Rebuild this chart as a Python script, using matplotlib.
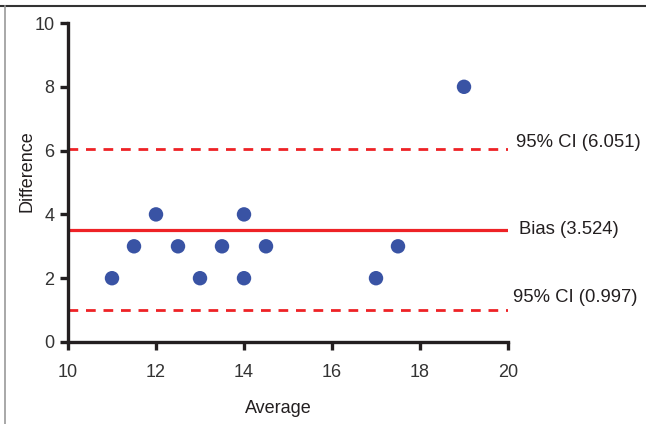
import matplotlib
matplotlib.use('Agg')
from matplotlib import pyplot as plt
from matplotlib.lines import Line2D

plt.rcParams['font.family'] = ['Liberation Sans', 'DejaVu Sans']

# Bland-Altman data
average = [11, 11.5, 12, 12.5, 13, 13.5, 14, 14, 14.5, 17, 17.5, 19]
difference = [2, 3, 4, 3, 2, 3, 4, 2, 3, 2, 3, 8]
bias = 3.524
ci_upper = 6.051
ci_lower = 0.997

red = '#ee2226'
blue = '#3953a4'
ink = '#231f20'

fig = plt.figure(figsize=(6.46, 4.24), dpi=100)
ax = fig.add_axes([68 / 646, 82 / 424, 440 / 646, 319 / 424])

ax.plot([10, 20], [bias, bias], color=red, lw=2.3, solid_capstyle='butt', zorder=2)
ax.plot([10, 20], [ci_upper, ci_upper], color=red, lw=2.0, ls=(0, (3.5, 2.8)), zorder=2)
ax.plot([10, 20], [ci_lower, ci_lower], color=red, lw=2.0, ls=(0, (3.5, 2.8)), zorder=2)
ax.scatter(average, difference, s=108, color=blue, edgecolors='none', zorder=3, clip_on=False)

ax.text(20.18, ci_upper + 0.19, f'95% CI ({ci_upper:.3f})', va='center', ha='left', fontsize=13.3, color=ink)
ax.text(20.25, bias, f'Bias ({bias:.3f})', va='center', ha='left', fontsize=13.3, color=ink)
ax.text(20.11, ci_lower + 0.41, f'95% CI ({ci_lower:.3f})', va='center', ha='left', fontsize=13.3, color=ink)

ax.set_xlim(10, 20)
ax.set_ylim(0, 10)
ax.set_xticks([10, 12, 14, 16, 18, 20])
ax.set_yticks([0, 2, 4, 6, 8, 10])
ax.set_xlabel('Average', fontsize=13, color=ink)
ax.set_ylabel('Difference', fontsize=13, color=ink)
ax.xaxis.set_label_coords(0.477, -0.181)
ax.yaxis.set_label_coords(-0.074, 0.537)

for s in ['top', 'right']:
    ax.spines[s].set_visible(False)
for s in ['left', 'bottom']:
    ax.spines[s].set_linewidth(2.4)
    ax.spines[s].set_color(ink)
    ax.spines[s].set_capstyle('projecting')
ax.tick_params(axis='both', width=2.4, length=5.8, color=ink, labelsize=13, labelcolor='#333333')
ax.tick_params(axis='x', pad=10)
ax.tick_params(axis='y', pad=4)

# frame around figure
fig.add_artist(Line2D([0, 1], [1 - 6 / 424, 1 - 6 / 424], color='#333333', lw=1.5, transform=fig.transFigure))
fig.add_artist(Line2D([5 / 646, 5 / 646], [0, 1 - 6 / 424], color='#999999', lw=1.2, transform=fig.transFigure))

fig.savefig('out.png', dpi=100)
